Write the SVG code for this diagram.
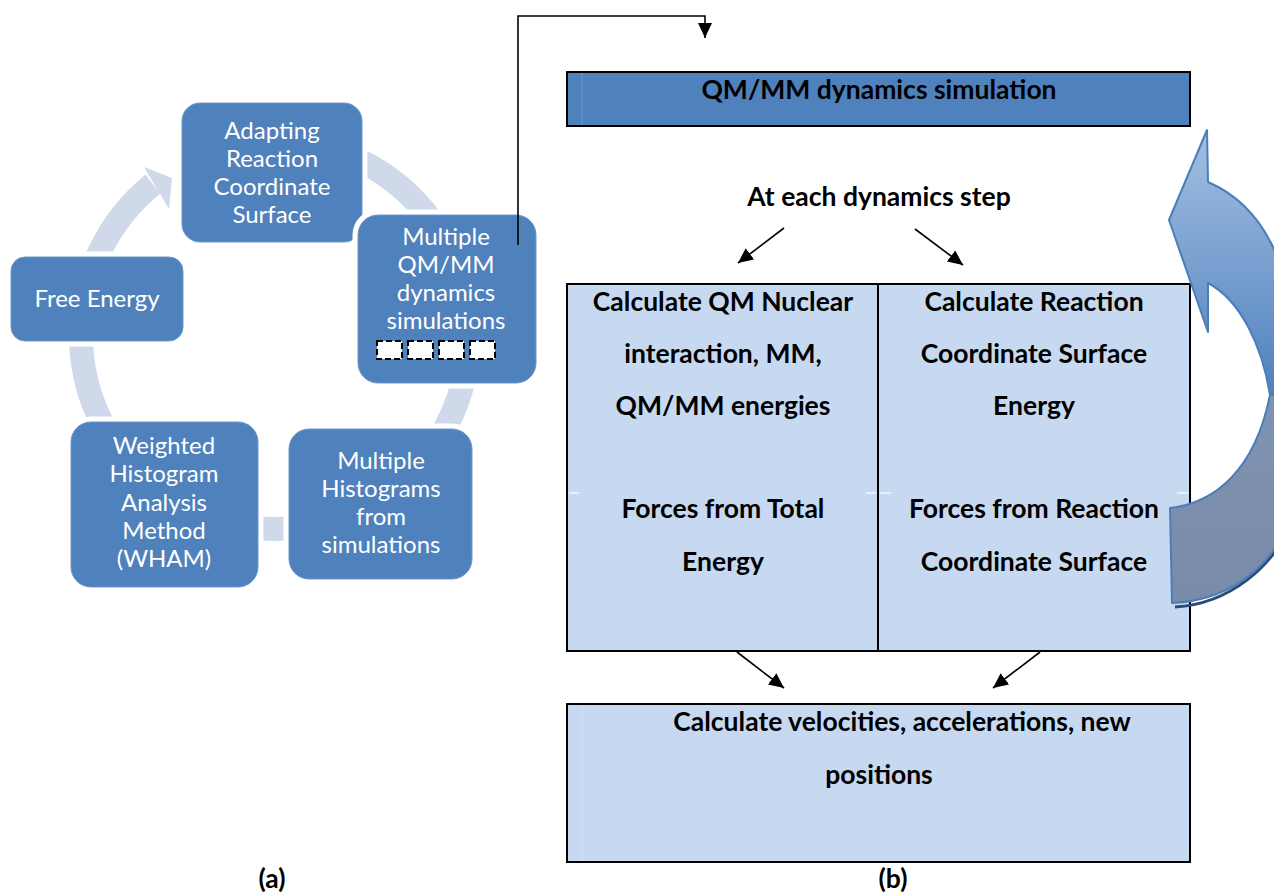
<svg xmlns="http://www.w3.org/2000/svg" width="1274" height="892" viewBox="0 0 1274 892">
<style>
.box{fill:#4f81bd;stroke:#6f97cb;stroke-width:1}
.halo{fill:#ffffff;stroke:#ffffff;stroke-width:11}
.lt{font-family:Lato,"Liberation Sans",sans-serif;font-size:24px;fill:#ffffff;text-anchor:middle}
.bt{font-family:Lato,"Liberation Sans",sans-serif;font-size:26.5px;font-weight:bold;fill:#000000;text-anchor:middle}
.cell{fill:#c6d9f1;stroke:#000000;stroke-width:2}
.con{fill:none;stroke:#000000;stroke-width:1.6}
.dash{fill:#ffffff;stroke:#000000;stroke-width:2;stroke-dasharray:6 3}
.tick{stroke:#ffffff;stroke-width:1.2}
</style>
<defs>
<marker id="ah" markerUnits="userSpaceOnUse" markerWidth="16" markerHeight="16" refX="15" refY="7" orient="auto">
<path d="M0,0 L15,7 L0,14 Z" fill="#000000"/>
</marker>
<linearGradient id="front" x1="0" y1="130" x2="0" y2="395" gradientUnits="userSpaceOnUse">
<stop offset="0" stop-color="#a3bfe2"/>
<stop offset="1" stop-color="#4f81bd"/>
</linearGradient>
<linearGradient id="back" x1="0" y1="395" x2="0" y2="605" gradientUnits="userSpaceOnUse">
<stop offset="0" stop-color="#7f93b2"/>
<stop offset="1" stop-color="#788ba9"/>
</linearGradient>
</defs>

<g id="cycle-ring">
<path d="M275,141 A194,194 0 1 1 152.9,184.2" fill="none" stroke="#d0d9e9" stroke-width="24"/>
<polygon points="144,167 172,178 169,209" fill="#d0d9e9"/>
</g>

<g id="node-adapting">
<rect class="halo" x="182" y="103" width="180" height="139" rx="18"/>
<rect class="box" x="182" y="103" width="180" height="139" rx="18"/>
<text class="lt" x="272" y="139">Adapting</text>
<text class="lt" x="272" y="167">Reaction</text>
<text class="lt" x="272" y="195">Coordinate</text>
<text class="lt" x="272" y="223">Surface</text>
</g>

<g id="node-multiple-qmmm">
<rect class="halo" x="358" y="215" width="178" height="168" rx="20"/>
<rect class="box" x="358" y="215" width="178" height="168" rx="20"/>
<text class="lt" x="446" y="245">Multiple</text>
<text class="lt" x="446" y="273">QM/MM</text>
<text class="lt" x="446" y="301">dynamics</text>
<text class="lt" x="446" y="329">simulations</text>
<rect class="dash" x="377" y="341" width="25" height="18"/>
<rect class="dash" x="408" y="341" width="25" height="18"/>
<rect class="dash" x="439" y="341" width="25" height="18"/>
<rect class="dash" x="470" y="341" width="25" height="18"/>
</g>

<g id="node-histograms">
<rect class="halo" x="289" y="429" width="183" height="150" rx="20"/>
<rect class="box" x="289" y="429" width="183" height="150" rx="20"/>
<text class="lt" x="381" y="469">Multiple</text>
<text class="lt" x="381" y="497">Histograms</text>
<text class="lt" x="381" y="525">from</text>
<text class="lt" x="381" y="553">simulations</text>
</g>

<g id="node-wham">
<rect class="halo" x="71" y="422" width="187" height="165" rx="20"/>
<rect class="box" x="71" y="422" width="187" height="165" rx="20"/>
<text class="lt" x="164" y="454">Weighted</text>
<text class="lt" x="164" y="482">Histogram</text>
<text class="lt" x="164" y="511">Analysis</text>
<text class="lt" x="164" y="539">Method</text>
<text class="lt" x="164" y="567">(WHAM)</text>
</g>

<g id="node-free-energy">
<rect class="halo" x="11" y="257" width="172" height="84" rx="14"/>
<rect class="box" x="11" y="257" width="172" height="84" rx="14"/>
<text class="lt" x="97" y="307">Free Energy</text>
</g>

<g id="label-a">
<text class="bt" x="272" y="888">(a)</text>
</g>

<g id="node-qmmm-sim">
<rect x="567" y="72" width="623" height="54" fill="#4f81bd" stroke="#000000" stroke-width="2"/>
<line x1="582" y1="73" x2="582" y2="125" stroke="#6b96cb" stroke-width="1"/>
<text class="bt" x="879" y="99">QM/MM dynamics simulation</text>
</g>

<g id="node-each-step">
<text class="bt" x="879" y="206">At each dynamics step</text>
</g>

<g id="node-table">
<rect class="cell" x="567" y="284" width="311" height="367"/>
<rect class="cell" x="878" y="284" width="312" height="367"/>
<line class="tick" x1="569" y1="493" x2="579" y2="493"/>
<line class="tick" x1="866" y1="493" x2="876" y2="493"/>
<line class="tick" x1="880" y1="493" x2="891" y2="493"/>
<line class="tick" x1="1177" y1="493" x2="1188" y2="493"/>
<text class="bt" x="723" y="311">Calculate QM Nuclear</text>
<text class="bt" x="723" y="363">interaction, MM,</text>
<text class="bt" x="723" y="415">QM/MM energies</text>
<text class="bt" x="723" y="518">Forces from Total</text>
<text class="bt" x="723" y="571">Energy</text>
<text class="bt" x="1034" y="311">Calculate Reaction</text>
<text class="bt" x="1034" y="363">Coordinate Surface</text>
<text class="bt" x="1034" y="415">Energy</text>
<text class="bt" x="1034" y="518">Forces from Reaction</text>
<text class="bt" x="1034" y="571">Coordinate Surface</text>
</g>

<g id="node-velocities">
<rect class="cell" x="567" y="704" width="623" height="158"/>
<line x1="582" y1="705" x2="582" y2="861" stroke="#d3e1f4" stroke-width="1"/>
<text class="bt" x="902" y="731">Calculate velocities, accelerations, new</text>
<text class="bt" x="879" y="784">positions</text>
</g>

<g id="label-b">
<text class="bt" x="893" y="888">(b)</text>
</g>

<g id="loop-arrow">
<path d="M1175,607 C1230,604 1275,565 1290,523" fill="none" stroke="#2f4a72" stroke-width="3"/>
<path d="M1170,508 C1215,503 1255,470 1270,395 L1290,395 L1290,516 C1276,562 1235,600 1172,603 Z" fill="url(#back)" stroke="#4a7ebb" stroke-width="2" stroke-linejoin="round"/>
<path d="M1207,130 L1169,220 L1208,332 L1208,283 C1240,300 1262,345 1270,395 L1290,395 L1290,300 C1278,240 1250,200 1208,182 Z" fill="url(#front)" stroke="#4a7ebb" stroke-width="2" stroke-linejoin="round"/>
</g>

<g id="connectors">
<polyline class="con" points="518,245 518,16 705,16 705,38" marker-end="url(#ah)"/>
<line class="con" x1="784" y1="228" x2="738" y2="263" marker-end="url(#ah)"/>
<line class="con" x1="915" y1="229" x2="963" y2="265" marker-end="url(#ah)"/>
<line class="con" x1="737" y1="652" x2="784" y2="688" marker-end="url(#ah)"/>
<line class="con" x1="1040" y1="652" x2="993" y2="688" marker-end="url(#ah)"/>
</g>
</svg>
